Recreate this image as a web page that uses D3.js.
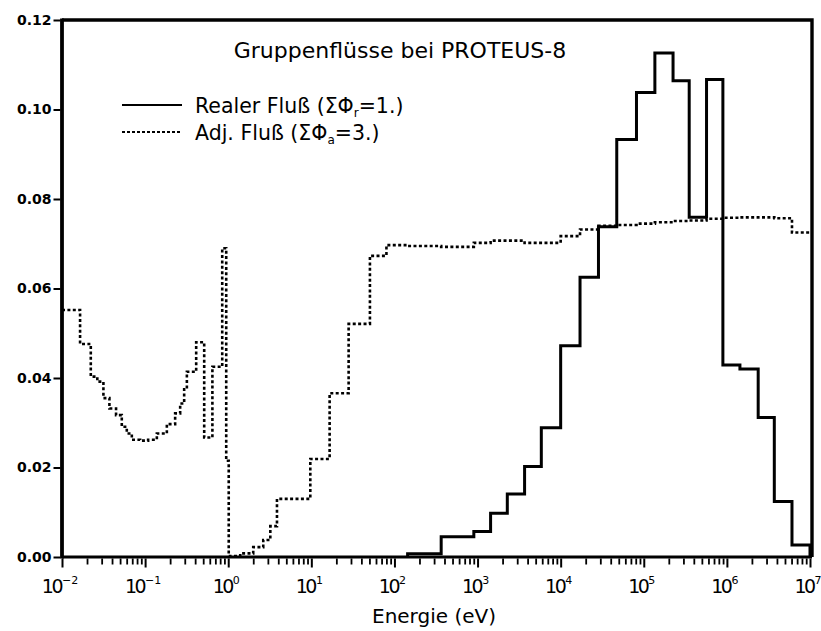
<!DOCTYPE html>
<html>
<head>
<meta charset="utf-8">
<script src="https://cdn.jsdelivr.net/npm/d3@7"></script>
<style>
  html, body { margin: 0; padding: 0; background: #fff; }
  svg { display: block; }
  text { font-family: "DejaVu Sans", sans-serif; fill: #000; }
</style>
</head>
<body>
<svg id="chart" width="821" height="631"></svg>
<script>
// Energy group boundaries (eV), shared by both flux spectra
const groupEdges = [
  0.01, 0.0165, 0.0222, 0.0266, 0.0315, 0.0372, 0.0447, 0.0524, 0.0602, 0.0692,
  0.0871, 0.1087, 0.1384, 0.1826, 0.2298, 0.2641, 0.2951, 0.318, 0.4116, 0.514,
  0.645, 0.847, 0.946, 1.014, 1.395, 2.0, 2.64, 3.21, 3.86, 9.72,
  16.6, 28.1, 50.7, 80.1, 144, 365, 902, 1435, 2280, 3680,
  5850, 1.0e4, 1.71e4, 2.85e4, 4.73e4, 8.17e4, 1.36e5, 2.25e5, 3.52e5, 5.69e5,
  8.95e5, 1.435e6, 2.38e6, 3.72e6, 6.07e6, 1.0e7
];

// Adjoint flux per group (sum = 3.)
const adjointFlux = [
  0.0552, 0.0476, 0.0403, 0.0392, 0.0355, 0.0332, 0.0317, 0.0291, 0.0276, 0.0262,
  0.0260, 0.0262, 0.0276, 0.0297, 0.0321, 0.0343, 0.0375, 0.0414, 0.0480, 0.0267,
  0.0425, 0.0690, 0.0215, 0.0002, 0.0008, 0.0022, 0.0038, 0.0069, 0.0130, 0.0219,
  0.0366, 0.0521, 0.0673, 0.0697, 0.0695, 0.0693, 0.0702, 0.0707, 0.0707, 0.0702,
  0.0702, 0.0717, 0.0732, 0.0740, 0.0742, 0.0745, 0.0748, 0.0751, 0.0752, 0.0756,
  0.0758, 0.0759, 0.0759, 0.0757, 0.0725
];

// Real flux per group (sum = 1.); no values below 144 eV
const realFlux = [
  null, null, null, null, null, null, null, null, null, null,
  null, null, null, null, null, null, null, null, null, null,
  null, null, null, null, null, null, null, null, null, null,
  null, null, null, null, 0.0007, 0.0045, 0.0057, 0.0098, 0.0141, 0.0202,
  0.0289, 0.0472, 0.0625, 0.0738, 0.0933, 0.1038, 0.1126, 0.1064, 0.0759, 0.1067,
  0.0429, 0.0420, 0.0312, 0.0124, 0.0027
];

const yTicks = [0, 0.02, 0.04, 0.06, 0.08, 0.10, 0.12];
const xDecades = [-2, -1, 0, 1, 2, 3, 4, 5, 6, 7];

const titleText = "Gruppenflüsse bei PROTEUS-8";
const xAxisTitle = "Energie (eV)";

const svg = d3.select("#chart");

const x = d3.scaleLog().domain([1e-2, 1e7]).range([62, 810]);
const y = d3.scaleLinear().domain([0, 0.12]).range([557, 20]);

// Build a histogram-style step outline from group edges and values
function stepPoints(edges, vals, closeToZero) {
  const idx = vals.map((v, i) => v == null ? -1 : i).filter(i => i >= 0);
  const pts = [];
  const first = idx[0], last = idx[idx.length - 1];
  if (closeToZero) pts.push([edges[first], 0]);
  idx.forEach(i => {
    pts.push([edges[i], vals[i]]);
    pts.push([edges[i + 1], vals[i]]);
  });
  if (closeToZero) pts.push([edges[last + 1], 0]);
  return pts;
}

const line = d3.line().x(d => x(d[0])).y(d => y(d[1]));

// Adjoint flux (dotted)
svg.append("path")
  .attr("d", line(stepPoints(groupEdges, adjointFlux, false)))
  .attr("fill", "none")
  .attr("stroke", "#000")
  .attr("stroke-width", 2.6)
  .attr("stroke-dasharray", "3,2.4");

// Real flux (solid)
svg.append("path")
  .attr("d", line(stepPoints(groupEdges, realFlux, true)))
  .attr("fill", "none")
  .attr("stroke", "#000")
  .attr("stroke-width", 3)
  .attr("stroke-linejoin", "miter");

// Frame
const x0 = x.range()[0], x1 = x.range()[1];
const yTop = y(0.12), yBot = y(0);
svg.append("path")
  .attr("d", `M${x0},${yTop}H${x1 + 2}V${yBot}`)
  .attr("fill", "none").attr("stroke", "#000").attr("stroke-width", 3.4);
svg.append("line")
  .attr("x1", x0).attr("x2", x0).attr("y1", yTop - 1.5).attr("y2", yBot + 1.5)
  .attr("stroke", "#000").attr("stroke-width", 3.8);
svg.append("line")
  .attr("x1", x0).attr("x2", x1 + 2).attr("y1", yBot).attr("y2", yBot)
  .attr("stroke", "#000").attr("stroke-width", 3.2);

// Y axis
const yAxis = d3.axisLeft(y)
  .tickValues(yTicks)
  .tickSize(7)
  .tickPadding(2)
  .tickFormat(d3.format(".2f"));
const gy = svg.append("g").attr("transform", `translate(${x0 - 1.5},0)`).call(yAxis);
gy.select(".domain").remove();
gy.selectAll(".tick line").attr("stroke", "#000").attr("stroke-width", 2);
gy.selectAll(".tick text")
  .style("font-family", "DejaVu Sans, sans-serif")
  .style("font-weight", "bold")
  .style("font-size", "14px");

// X axis: minor ticks 2..9 in each decade, major ticks at decades
const minorVals = [];
xDecades.slice(0, -1).forEach(e => {
  for (let k = 2; k <= 9; k++) minorVals.push(k * Math.pow(10, e));
});
const gxMinor = svg.append("g").attr("transform", `translate(0,${yBot + 1.5})`)
  .call(d3.axisBottom(x).tickValues(minorVals).tickSize(6).tickFormat(""));
gxMinor.select(".domain").remove();
gxMinor.selectAll(".tick line").attr("stroke", "#000").attr("stroke-width", 1.8);

const gxMajor = svg.append("g").attr("transform", `translate(0,${yBot + 1.5})`)
  .call(d3.axisBottom(x).tickValues(xDecades.map(e => Math.pow(10, e))).tickSize(9).tickFormat(""));
gxMajor.select(".domain").remove();
gxMajor.selectAll(".tick line").attr("stroke", "#000").attr("stroke-width", 2);

// Decade labels 10^n
const labels = svg.append("g");
xDecades.forEach(e => {
  const t = labels.append("text")
    .attr("x", x(Math.pow(10, e)) - 2)
    .attr("y", 593)
    .attr("text-anchor", "middle")
    .style("font-size", "19px")
    .style("letter-spacing", "-2.5px");
  t.append("tspan").text("10");
  t.append("tspan")
    .attr("dy", -9)
    .attr("dx", 1)
    .style("font-size", "11px")
    .style("letter-spacing", "0px")
    .text(e < 0 ? "\u2212" + (-e) : String(e));
});

// Axis title
svg.append("text")
  .attr("x", 434).attr("y", 623)
  .attr("text-anchor", "middle")
  .style("font-size", "20px")
  .text(xAxisTitle);

// Chart title
svg.append("text")
  .attr("x", 400).attr("y", 58)
  .attr("text-anchor", "middle")
  .style("font-size", "22px")
  .text(titleText);

// Legend
const legend = svg.append("g");
const legendRows = [
  { y: 105, dash: null, width: 2, label: "Realer Fluß (ΣΦ", sub: "r", tail: "=1.)" },
  { y: 132, dash: "3,2", width: 2.2, label: "Adj. Fluß (ΣΦ", sub: "a", tail: "=3.)" }
];
legendRows.forEach(r => {
  legend.append("line")
    .attr("x1", 122).attr("x2", 182)
    .attr("y1", r.y).attr("y2", r.y)
    .attr("stroke", "#000").attr("stroke-width", r.width)
    .attr("stroke-dasharray", r.dash);
  const t = legend.append("text")
    .attr("x", 195).attr("y", r.y + 8)
    .style("font-size", "20.5px");
  t.append("tspan").text(r.label);
  t.append("tspan").attr("dy", 4).style("font-size", "12px").text(r.sub);
  t.append("tspan").attr("dy", -4).text(r.tail);
});
</script>
</body>
</html>
